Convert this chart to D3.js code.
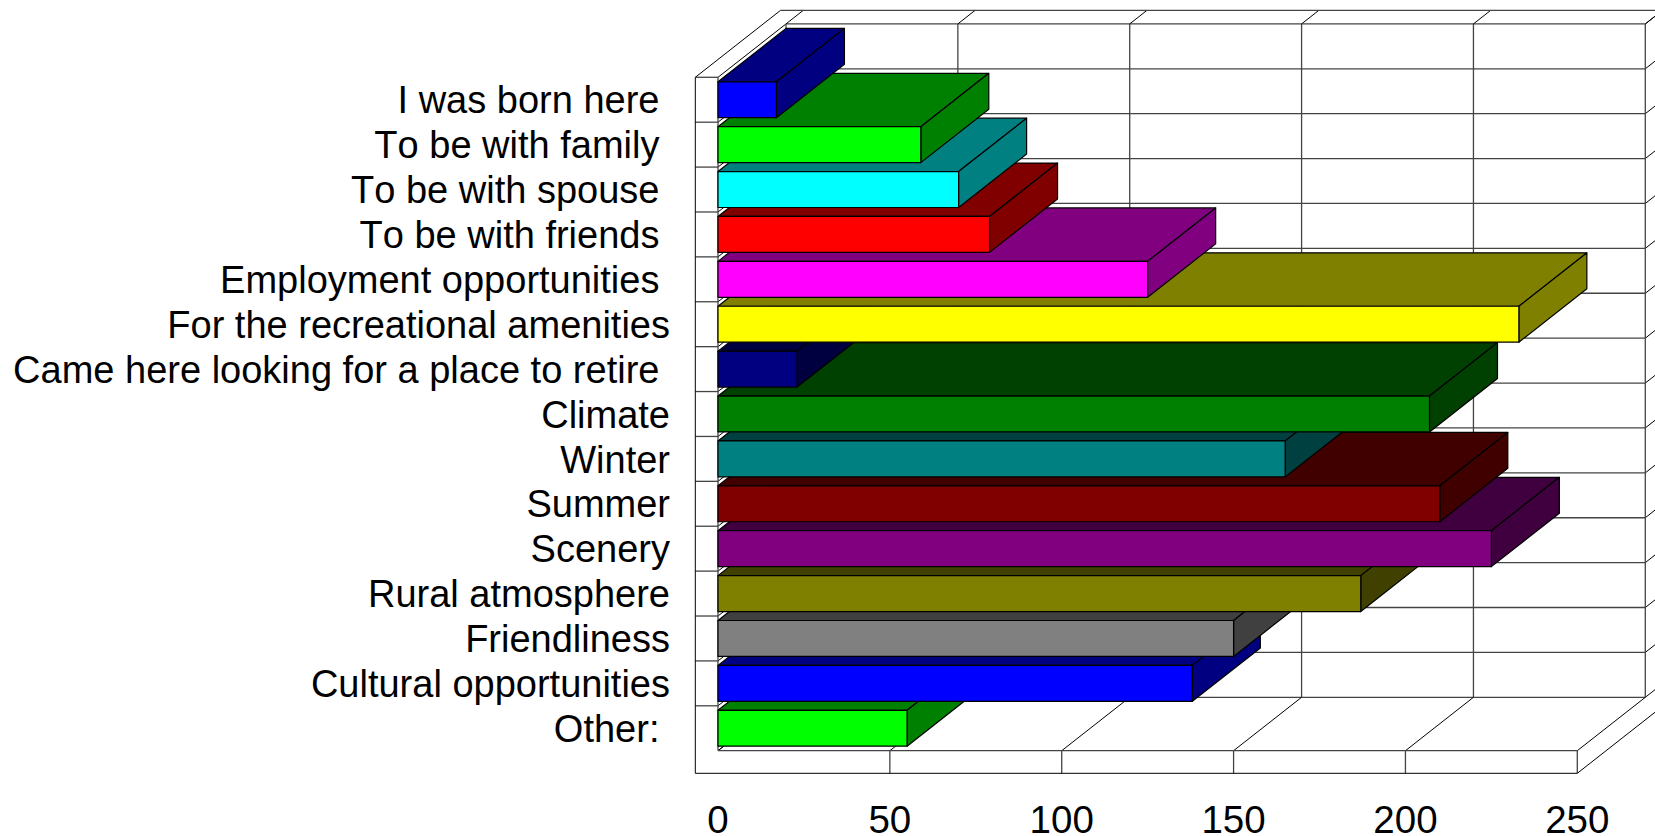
<!DOCTYPE html>
<html lang="en">
    <head>
        <meta charset="utf-8">
        <title>Reasons for living here</title>
        <script src="https://cdn.jsdelivr.net/npm/d3@7/dist/d3.min.js"></script>
        <style>
            body { margin: 0; background: #fff; }
            svg { display: block; }
            text { font-family: "Liberation Sans", Arial, sans-serif; fill: #000; white-space: pre; font-kerning: none; }
        </style>
    </head>
    <body>
        <svg width="1655" height="836"></svg>
        <script type="text/javascript">
            // chart data (trailing spaces are in the original labels)
            var categories = ["I was born here ", "To be with family ", "To be with spouse ",
                "To be with friends ", "Employment opportunities ", "For the recreational amenities",
                "Came here looking for a place to retire ", "Climate", "Winter", "Summer", "Scenery",
                "Rural atmosphere", "Friendliness", "Cultural opportunities", "Other: "];
            var values = [17, 59, 70, 79, 125, 233, 23, 207, 165, 210, 225, 187, 150, 138, 55];
            var xTicks = [0, 50, 100, 150, 200, 250];
            var barColors = ["#0000ff", "#00ff00", "#00ffff", "#ff0000", "#ff00ff", "#ffff00", "#000080",
                "#008000", "#008080", "#800000", "#800080", "#808000", "#808080", "#0000ff", "#00ff00"];

            var svg = d3.select("svg");

            // plot box on the front plane
            var plotLeft = 718, plotRight = 1577.3, plotTop = 77.3, plotBottom = 750.7;

            // depth of the 3d box and thickness of its walls
            var depthX = 68, depthY = 53.4;
            var wallX = 17.3, wallY = 13.6;
            var slabLeft = 695.3, slabBottom = 773.3;

            var x_scale = d3.scaleLinear()
                .domain([0, 250])
                .range([plotLeft, plotRight]);

            var y_scale = d3.scaleBand()
                .domain(categories)
                .range([plotTop, plotBottom])
                .paddingInner(0.2)
                .paddingOuter(0.1);

            // row borders, one more than there are categories
            var rowLines = d3.range(categories.length + 1).map(function(i) {
                return plotTop + i * y_scale.step();
            });

            function line(g, x1, y1, x2, y2, color, width) {
                g.append("line")
                    .attr("x1", x1).attr("y1", y1)
                    .attr("x2", x2).attr("y2", y2)
                    .attr("stroke", color || "#000")
                    .attr("stroke-width", width || 1);
            }

            var grid = svg.append("g");
            var gridColor = "#444";
            var gridWidth = 1.3;

            // back wall rows, left wall diagonals, slab ticks
            rowLines.forEach(function(y, i) {
                line(grid, plotLeft + depthX, y - depthY, plotRight + depthX, y - depthY, gridColor, gridWidth);
                line(grid, plotLeft, y, plotLeft + depthX, y - depthY);
                line(grid, plotRight + depthX, y - depthY, plotRight + depthX + wallX, y - depthY - wallY);
                if (i < categories.length) {
                    line(grid, slabLeft, y, plotLeft, y, gridColor, gridWidth);
                }
            });

            // back wall columns, floor diagonals, slab ticks
            xTicks.forEach(function(v) {
                var px = x_scale(v);
                line(grid, px + depthX, plotTop - depthY, px + depthX, plotBottom - depthY, gridColor, gridWidth);
                line(grid, px + depthX, plotTop - depthY, px + depthX + wallX, plotTop - depthY - wallY);
                line(grid, px, plotBottom, px + depthX, plotBottom - depthY);
                if (v > 0) {
                    line(grid, px, plotBottom, px, slabBottom, gridColor, gridWidth);
                }
            });

            // outline of the box
            line(grid, plotLeft, plotTop, plotLeft, plotBottom, gridColor, gridWidth);
            line(grid, slabLeft, plotTop, slabLeft, slabBottom);
            line(grid, slabLeft, slabBottom, plotRight, slabBottom);
            line(grid, plotLeft, plotBottom, plotRight, plotBottom, gridColor, gridWidth);
            line(grid, slabLeft, plotTop, slabLeft + depthX + wallX, plotTop - depthY - wallY);
            line(grid, slabLeft + depthX + wallX, plotTop - depthY - wallY, 1655, plotTop - depthY - wallY, gridColor, gridWidth);
            line(grid, plotRight, slabBottom, plotRight + depthX + wallX, slabBottom - depthY - wallY);

            // bars, from the bottom one up so upper bars overlap lower ones
            var rows = categories.map(function(c, i) {
                return {name: c, value: values[i], color: barColors[i]};
            }).reverse();

            var bars = svg.selectAll(".bar")
                .data(rows)
                .enter()
                .append("g")
                .attr("class", "bar")
                .attr("stroke", "#000")
                .attr("stroke-width", 1.2)
                .attr("stroke-linejoin", "round");

            function darker(c) {
                var rgb = d3.rgb(c);
                return d3.rgb(rgb.r / 2, rgb.g / 2, rgb.b / 2).formatHex();
            }

            // top face
            bars.append("polygon")
                .attr("fill", function(d) { return darker(d.color); })
                .attr("points", function(d) {
                    var x0 = x_scale(0), x1 = x_scale(d.value), y0 = y_scale(d.name);
                    return [[x0, y0], [x1, y0], [x1 + depthX, y0 - depthY], [x0 + depthX, y0 - depthY]].join(" ");
                });

            // right face
            bars.append("polygon")
                .attr("fill", function(d) { return darker(d.color); })
                .attr("points", function(d) {
                    var x1 = x_scale(d.value), y0 = y_scale(d.name), y1 = y0 + y_scale.bandwidth();
                    return [[x1, y0], [x1 + depthX, y0 - depthY], [x1 + depthX, y1 - depthY], [x1, y1]].join(" ");
                });

            // front face
            bars.append("rect")
                .attr("fill", function(d) { return d.color; })
                .attr("x", x_scale(0))
                .attr("y", function(d) { return y_scale(d.name); })
                .attr("width", function(d) { return x_scale(d.value) - x_scale(0); })
                .attr("height", y_scale.bandwidth());

            // category labels
            var yAxis = svg.append("g")
                .attr("transform", "translate(670,1.5)")
                .call(d3.axisLeft(y_scale).tickSize(0).tickPadding(0));
            yAxis.select(".domain").remove();
            yAxis.selectAll("text").style("font-size", "38px");

            // value labels
            var xAxis = svg.append("g")
                .attr("transform", "translate(-0.5,806)")
                .call(d3.axisBottom(x_scale).tickValues(xTicks).tickSize(0).tickPadding(0));
            xAxis.select(".domain").remove();
            xAxis.selectAll("text").style("font-size", "38.5px");
        </script>
    </body>
</html>
